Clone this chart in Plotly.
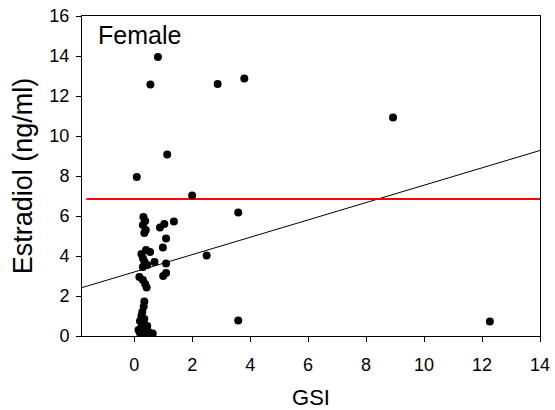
import plotly.graph_objects as go

# Data
gsi = [0.82, 0.56, 1.14, 0.09, 2.0, 2.88, 3.8, 8.93, 12.27, 3.59, 2.5, 3.59,
       0.32, 0.38, 0.30, 0.40, 0.35, 0.89, 1.04, 1.37, 1.1, 0.99,
       0.41, 0.25, 0.55, 0.30, 0.35, 0.7, 0.45, 0.30, 1.1,
       1.0, 1.1, 0.18, 0.30, 0.38, 0.43,
       0.35, 0.33, 0.28, 0.25, 0.35, 0.2, 0.3, 0.45, 0.15, 0.35, 0.2, 0.3, 0.5, 0.64, 0.4, 0.25]
estradiol = [13.95, 12.58, 9.08, 7.95, 7.02, 12.6, 12.87, 10.93, 0.72, 6.18, 4.03, 0.77,
             5.95, 5.75, 5.55, 5.3, 5.15, 5.43, 5.6, 5.72, 4.88, 4.42,
             4.3, 4.1, 4.2, 3.9, 3.72, 3.7, 3.55, 3.45, 3.63,
             3.0, 3.15, 2.95, 2.8, 2.6, 2.42,
             1.72, 1.47, 1.2, 1.0, 0.85, 0.75, 0.6, 0.5, 0.3, 0.35, 0.15, 0.05, 0.2, 0.12, 0.1, 0.45]

fit_x = [-1.8, 14.0]
fit_intercept = 3.20
fit_slope = 0.434
threshold = 6.85

x_ticks = [0, 2, 4, 6, 8, 10, 12, 14]
y_ticks = [0, 2, 4, 6, 8, 10, 12, 14, 16]

font_family = "Liberation Sans, Arial, sans-serif"

fig = go.Figure()
fig.add_trace(go.Scatter(
    x=fit_x, y=[fit_intercept + fit_slope * v for v in fit_x],
    mode="lines", line=dict(color="black", width=1), showlegend=False, hoverinfo="skip"))
fig.add_trace(go.Scatter(
    x=[fit_x[0] + 0.15, fit_x[1]], y=[threshold, threshold],
    mode="lines", line=dict(color="#ff0000", width=2), showlegend=False, hoverinfo="skip"))
fig.add_trace(go.Scatter(
    x=gsi, y=estradiol, mode="markers",
    marker=dict(color="black", size=8), showlegend=False))

fig.add_annotation(text="Female", xref="paper", yref="paper", x=0.03, y=0.99,
                   xanchor="left", yanchor="top", showarrow=False,
                   font=dict(size=25, color="black", family=font_family))

fig.update_layout(
    width=555, height=410,
    margin=dict(l=82, r=15, t=16, b=74, autoexpand=False),
    paper_bgcolor="white", plot_bgcolor="white",
    font=dict(family=font_family, color="black"),
    xaxis=dict(range=[-1.8, 14], tickvals=x_ticks, ticktext=[str(v) for v in x_ticks],
               showline=True, linecolor="black", linewidth=1, mirror=True, automargin=False,
               ticks="outside", ticklen=5, tickcolor="black", showgrid=False, zeroline=False,
               ticklabelstandoff=7, ticklabeloverflow="allow",
               tickfont=dict(size=18), title=dict(text="GSI", font=dict(size=22), standoff=18)),
    yaxis=dict(range=[0, 16], tickvals=y_ticks, ticktext=[str(v) for v in y_ticks],
               showline=True, linecolor="black", linewidth=1, mirror=True, automargin=False,
               ticks="outside", ticklen=5, tickcolor="black", showgrid=False, zeroline=False,
               ticklabelstandoff=3, ticklabeloverflow="allow",
               tickfont=dict(size=18), title=dict(text="Estradiol (ng/ml)", font=dict(size=27), standoff=8)),
)

# remove the default 8px page margin so the figure sits at the window's corner
fig.write_html("out.html", config={"displayModeBar": False},
               post_script="document.body.style.margin='0';document.body.style.overflow='hidden';")
